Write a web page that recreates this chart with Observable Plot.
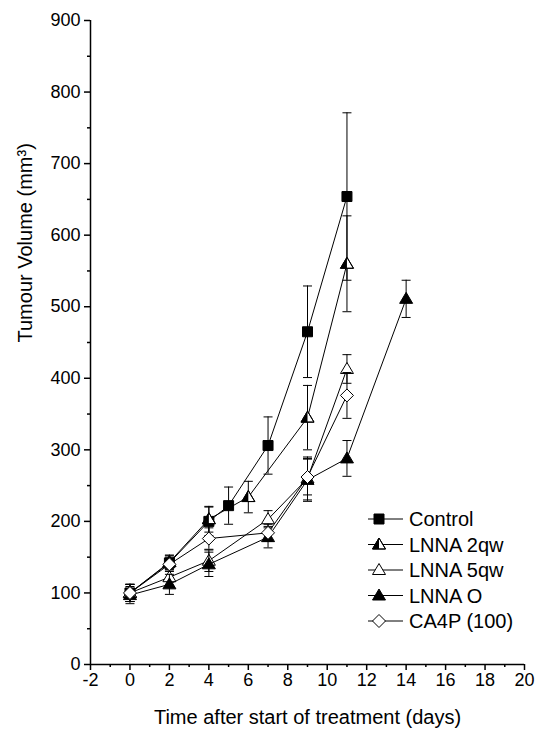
<!DOCTYPE html>
<html>
<head>
<meta charset="utf-8">
<script src="https://cdn.jsdelivr.net/npm/d3@7"></script>
<script src="https://cdn.jsdelivr.net/npm/@observablehq/plot@0.6"></script>
<style>
  html, body { margin: 0; padding: 0; background: white; }
  #wrap { position: relative; width: 535px; height: 733px; font-family: "Liberation Sans", Arial, sans-serif; }
  #legend { position: absolute; left: 350px; top: 500px; }
</style>
</head>
<body>
<div id="wrap"></div>
<script>
// ---- data ----
const seriesNames = ["Control", "LNNA 2qw", "LNNA 5qw", "LNNA O", "CA4P (100)"];

const controlDays = [0, 2, 4, 5, 7, 9, 11];
const controlMean = [100, 142, 200, 222, 306, 465, 654];
const controlErr  = [12, 10, 20, 26, 40, 64, 117];

const lnna2qwDays = [0, 2, 4, 6, 9, 11];
const lnna2qwMean = [100, 143, 203, 234, 345, 560];
const lnna2qwErr  = [12, 10, 18, 22, 45, 67];

const lnna5qwDays = [0, 2, 4, 7, 9, 11];
const lnna5qwMean = [100, 122, 145, 203, 260, 413];
const lnna5qwErr  = [12, 12, 15, 12, 30, 20];

const lnnaODays = [0, 2, 4, 7, 9, 11, 14];
const lnnaOMean = [97, 112, 140, 178, 258, 288, 511];
const lnnaOErr  = [12, 14, 17, 15, 30, 25, 26];

const ca4pDays = [0, 2, 4, 7, 9, 11];
const ca4pMean = [100, 140, 176, 184, 262, 376];
const ca4pErr  = [12, 10, 15, 12, 25, 32];

const xTicks = [-2, 0, 2, 4, 6, 8, 10, 12, 14, 16, 18, 20];
const xMinorTicks = [-1, 1, 3, 5, 7, 9, 11, 13, 15, 17, 19];
const yTicks = [0, 100, 200, 300, 400, 500, 600, 700, 800, 900];
const yMinorTicks = [50, 150, 250, 350, 450, 550, 650, 750, 850];

// ---- symbols ----
const sqSym = { draw(c) { c.rect(-5, -5, 10, 10); } };
const triSym = { draw(c) { c.moveTo(0, -6.5); c.lineTo(6.5, 4.5); c.lineTo(-6.5, 4.5); c.closePath(); } };
const halfTriSym = { draw(c) { c.moveTo(0, -6.5); c.lineTo(0, 4.5); c.lineTo(-6.5, 4.5); c.closePath(); } };
const diaSym = { draw(c) { c.moveTo(0, -6.5); c.lineTo(6.5, 0); c.lineTo(0, 6.5); c.lineTo(-6.5, 0); c.closePath(); } };
const capSym = { draw(c) { c.moveTo(-4.5, 0); c.lineTo(4.5, 0); } };

const rows = (name, days, mean, err) =>
  days.map((d, i) => ({ series: name, day: d, mean: mean[i], lo: mean[i] - err[i], hi: mean[i] + err[i] }));

const seriesData = [
  rows(seriesNames[0], controlDays, controlMean, controlErr),
  rows(seriesNames[1], lnna2qwDays, lnna2qwMean, lnna2qwErr),
  rows(seriesNames[2], lnna5qwDays, lnna5qwMean, lnna5qwErr),
  rows(seriesNames[3], lnnaODays, lnnaOMean, lnnaOErr),
  rows(seriesNames[4], ca4pDays, ca4pMean, ca4pErr)
];

const styles = [
  { layers: [{ sym: sqSym, fill: "black" }] },
  { layers: [{ sym: triSym, fill: "white" }, { sym: halfTriSym, fill: "black" }, { sym: triSym, fill: "none" }] },
  { layers: [{ sym: triSym, fill: "white" }] },
  { layers: [{ sym: triSym, fill: "black" }] },
  { layers: [{ sym: diaSym, fill: "white" }] }
];

const strokeFor = l => (l.fill === "black" && l.sym === halfTriSym ? "none" : "black");

const seriesMarks = seriesData.flatMap((data, k) => [
  Plot.line(data, { x: "day", y: "mean", stroke: "black", strokeWidth: 1 }),
  Plot.ruleX(data, { x: "day", y1: "lo", y2: "hi", stroke: "black", strokeWidth: 1 }),
  Plot.dot(data, { x: "day", y: "lo", symbol: capSym, stroke: "black", fill: "none", strokeWidth: 1 }),
  Plot.dot(data, { x: "day", y: "hi", symbol: capSym, stroke: "black", fill: "none", strokeWidth: 1 }),
  ...styles[k].layers.map(l =>
    Plot.dot(data, { x: "day", y: "mean", symbol: l.sym, fill: l.fill, stroke: strokeFor(l), strokeWidth: 1 })
  )
]);

const plainFormat = d => `${d}`;

const chart = Plot.plot({
  width: 535,
  height: 733,
  marginLeft: 90,
  marginRight: 11,
  marginTop: 20,
  marginBottom: 69,
  x: { domain: [-2, 20] },
  y: { domain: [0, 900] },
  style: { fontFamily: "'Liberation Sans', Arial, sans-serif", fontSize: "18px", color: "black", background: "white", overflow: "visible" },
  marks: [
    Plot.axisX({ ticks: xTicks, tickSize: 6, tickPadding: 3, fontSize: 18, label: null, strokeWidth: 1.5, tickFormat: plainFormat }),
    Plot.axisX({ ticks: xMinorTicks, tickSize: 3, tickFormat: () => "", label: null, strokeWidth: 1.5 }),
    Plot.axisY({ ticks: yTicks, tickSize: 6, tickPadding: 4, fontSize: 18, label: null, strokeWidth: 1.5, tickFormat: plainFormat }),
    Plot.axisY({ ticks: yMinorTicks, tickSize: 3, tickFormat: () => "", label: null, strokeWidth: 1.5 }),
    Plot.ruleX([-2], { stroke: "black", strokeWidth: 1.5 }),
    Plot.ruleY([0], { stroke: "black", strokeWidth: 1.5 }),
    Plot.text(["Time after start of treatment (days)"], { frameAnchor: "bottom", dy: 59, fontSize: 20, fill: "black" }),
    Plot.text(["Tumour Volume (mm³)"], { frameAnchor: "left", dx: -65, rotate: -90, fontSize: 20, fill: "black" }),
    ...seriesMarks
  ]
});

const wrap = document.getElementById("wrap");
wrap.appendChild(chart);

// ---- legend ----
const legend = d3.select(wrap).append("svg")
  .attr("id", "legend")
  .attr("width", 185).attr("height", 135);
const rowY = i => 19 + i * 25.5;
seriesNames.forEach((name, i) => {
  const g = legend.append("g").attr("transform", `translate(0,${rowY(i)})`);
  g.append("line").attr("x1", 18).attr("x2", 53).attr("y1", 0).attr("y2", 0).attr("stroke", "black").attr("stroke-width", 1);
  styles[i].layers.forEach(l => {
    g.append("path").attr("transform", "translate(29,0)")
      .attr("d", d3.symbol().type(l.sym)())
      .attr("fill", l.fill)
      .attr("stroke", strokeFor(l))
      .attr("stroke-width", 1);
  });
  g.append("text").attr("x", 59).attr("y", 0).attr("dy", "0.35em")
    .attr("font-size", 20).attr("fill", "black").text(name);
});
</script>
</body>
</html>
